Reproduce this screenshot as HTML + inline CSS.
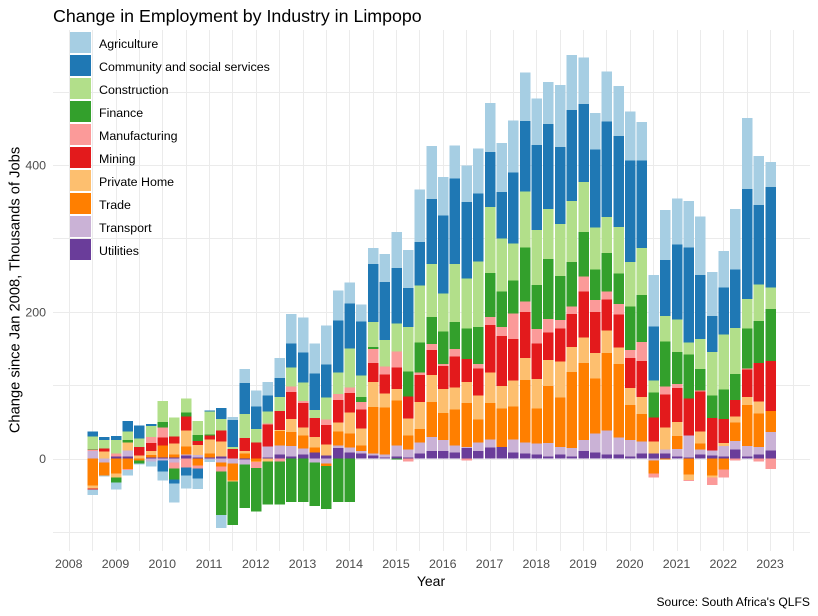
<!DOCTYPE html>
<html lang="en">
<head>
<meta charset="utf-8">
<title>Change in Employment by Industry in Limpopo</title>
<style>
html,body{margin:0;padding:0;background:#fff;}
svg{display:block;font-family:"Liberation Sans",Arial,sans-serif;}
</style>
</head>
<body>
<svg id="chart" width="818" height="616" viewBox="0 0 818 616" xmlns="http://www.w3.org/2000/svg">
<rect x="0" y="0" width="818" height="616" fill="#ffffff"/>
<g id="grid"></g>
<g id="bars"></g>
<g id="yticks"></g>
<g id="xticks"></g>
<g id="legend"></g>
<text x="53" y="22" font-size="17.8" fill="#000">Change in Employment by Industry in Limpopo</text>
<text x="431" y="586" font-size="14" fill="#000" text-anchor="middle">Year</text>
<text transform="translate(19.5,290) rotate(-90)" font-size="14.7" fill="#000" text-anchor="middle">Change since Jan 2008, Thousands of Jobs</text>
<text x="810" y="606" font-size="12.1" fill="#000" text-anchor="end">Source: South Africa's QLFS</text>
</svg>
<script>
var startYear = 2008.5;
var stepYears = 0.25;
var industries = ["Agriculture","Community and social services","Construction","Finance","Manufacturing","Mining","Private Home","Trade","Transport","Utilities"];
var industryColors = ["#a6cee3","#1f78b4","#b2df8a","#33a02c","#fb9a99","#e31a1c","#fdbf6f","#ff7f00","#cab2d6","#6a3d9a"];
var yearTicks = [2008,2009,2010,2011,2012,2013,2014,2015,2016,2017,2018,2019,2020,2021,2022,2023];
var yMajorTicks = [0,200,400];
var yMinorTicks = [-100,100,300,500];
var agriculture = [-7,-1,-9.5,-8,-1.5,-7,-12,-26,-18,-14,-3,-18,4,19,22,18,27,40,48,41,53,41,29,23,22,38,49,52,72,72,53,45,50,61,67,67,71,66,63,57,85,75,64,50,68,68,67,53,70,68,63,63,80,60,50,82,97,67,34];
var community = [7,4,5.5,14,18,3,-15,-5.5,-11,-14,1.5,15,37,42,31,22,26,33,41,50,45,71,61,74,79,79,76,53,59,89,106,117,104,93,75,63,97,96,116,116,105,124,106,106,130,124,138,119,74,76,102,130,87,49,64,80,150,108,137];
var construction = [17,12,18,12,11,15,29,26,19,19,31,16,2.5,33,18,16,19,26,25,11,30,29,53,29,34,36,38,61,78,72,52,79,68,89,90,72,50,76,75,68,71,83,68,57,49,63,61,64,16,35,44,16,41,59,75,63,40,50,29];
var finance = [1,0,-7,3,-4,0,7,-15,5.5,8,1.5,-59,-59,-59,-59,-59,-59,-59,-59,-59,-59,-59,-59,7,3,0,-1.5,34,41,37,44,37,42,51,60,49,45,74,60,82,60,61,61,42,53,42,59,64,34,61,44,60,29,31,40,35,55,57,71];
var manufacturing = [2,0,4,-1.5,0,8,14,-8,-12,-4,0,-7,0,0,-8,1.5,-4,7,3,0,7,8,8,10,19,11,22,-4,3,8,3,10,-3,5.5,11,12,35,14,20,18,11,10,20,16,11,14,11,26,-5.5,11,5.5,-1.5,1.5,-10,-11,-3,1.5,-4,-14];
var mining = [-1.5,4,0,0,12,11,11,9.5,19,5.5,5.5,15,13,18,22,30,26,37,33,26,27,31,26,26,26,26,29,30,37,34,31,42,31,37,65,68,57,63,48,38,45,45,63,56,42,45,41,49,33,45,46,50.5,55,44,33,23,37,53,68];
var privateHome = [-4,9.5,-5.5,11,4,5.5,0,15,22,14,19,20,-1.5,3,-1,-4,1.5,18,11,14,15,12,29,23,34,19,16,23,37,37,33,30,29,33,41,31,35,30,40,35,49,34,35,35,31,23,23,23,16,30,19,-7,16,-3,4,8,11,16,0];
var trade = [-37,-18,-20.5,-14,-3,3,16,4,11,-9.5,5.5,-5.5,-23,7,-4,0,20,19,18,7,-3,19,19,8,63,64,61,19,18,48,37,49,60,31,50,52,45,85,48,78,68,104,105,75,105,100,48,38,-18,-1.5,18,-22,8,-23,-15,25,56,46,29];
var transport = [10,-5.5,0,8,0,-4,-3,-5.5,1.5,3,-1.5,-5.5,-7,-7,0,15,12,14,8,-5.5,-7,4,7,3,3,4,15,11,15,19,15,10,1.5,12,11,0,18,15,15,18,10,11,15,26,33,23,22,16,-2.5,5.5,10,30,7,7,14,12,14,10,25];
var utilities = [0,0,3,3,0,1.5,1.5,1.5,4,1.5,1.5,3,0,-1.5,0,1.5,5.5,3,5.5,8,4,14,8,7,4,1.5,3,1.5,7,10,10,8,14,10,15,16,8,7,5.5,3,5.5,3,10,8,5.5,5.5,3,7,7,7,3,1.5,5.5,4,3,12,3,5.5,11];

var NS = "http://www.w3.org/2000/svg";
var seriesValues = [agriculture,community,construction,finance,manufacturing,mining,privateHome,trade,transport,utilities];
function xScale(year){ return 69.3 + (year - 2008) * 46.75; }
function yScale(value){ return 458.5 - value * 0.7335; }
function makeEl(parent, tag){
  var el = document.createElementNS(NS, tag);
  parent.appendChild(el);
  return el;
}
var gridGroup = document.getElementById("grid");
function hLine(value){
  var ln = makeEl(gridGroup, "line");
  
  
  ln.setAttribute("x1", 53); ln.setAttribute("x2", 810);
  ln.setAttribute("y1", Math.round(yScale(value)) + 0.5); ln.setAttribute("y2", Math.round(yScale(value)) + 0.5);
  ln.setAttribute("stroke", "#ebebeb"); ln.setAttribute("stroke-width", 1);
}
function vLine(year){
  var ln = makeEl(gridGroup, "line");
  
  
  var px = Math.floor(xScale(year)) + 0.5;
  ln.setAttribute("x1", px); ln.setAttribute("x2", px);
  ln.setAttribute("y1", 30); ln.setAttribute("y2", 551);
  ln.setAttribute("stroke", "#ebebeb"); ln.setAttribute("stroke-width", 1);
}
yMajorTicks.concat(yMinorTicks).forEach(hLine);
yearTicks.forEach(function(y){ vLine(y); vLine(y + 0.5); });

var barsGroup = document.getElementById("bars");
var barCount = agriculture.length;
var barWidth = 0.225 * 46.75;
function drawBar(k){
  var period = startYear + k * stepYears;
  var pos = 0, neg = 0;
  for (var s = seriesValues.length - 1; s >= 0; s--) {
    var v = seriesValues[s][k];
    if (v === 0) continue;
    var from, to;
    if (v > 0) { from = pos; to = pos + v; pos = to; }
    else { from = neg; to = neg + v; neg = to; }
    var r = makeEl(barsGroup, "rect");
    
    
    var yTop = yScale(Math.max(from, to));
    var yBot = yScale(Math.min(from, to));
    r.setAttribute("x", xScale(period) - barWidth / 2);
    r.setAttribute("width", barWidth);
    r.setAttribute("y", yTop);
    r.setAttribute("height", yBot - yTop);
    r.setAttribute("fill", industryColors[s]);
    r.setAttribute("shape-rendering", "crispEdges");
  }
}
for (var barIndex = 0; barIndex < barCount; barIndex++) { drawBar(barIndex); }

var yGroup = document.getElementById("yticks");
yMajorTicks.forEach(function(t){
  var tx = makeEl(yGroup, "text");
  
  
  tx.setAttribute("x", 46);
  tx.setAttribute("y", yScale(t) + 4.5);
  tx.setAttribute("text-anchor", "end");
  tx.setAttribute("font-size", "12.4");
  tx.setAttribute("fill", "#4d4d4d");
  tx.textContent = t;
});
var xGroup = document.getElementById("xticks");
yearTicks.forEach(function(t){
  var tx = makeEl(xGroup, "text");
  
  
  tx.setAttribute("x", xScale(t) - 0.5);
  tx.setAttribute("y", 568);
  tx.setAttribute("text-anchor", "middle");
  tx.setAttribute("font-size", "12.4");
  tx.setAttribute("fill", "#4d4d4d");
  tx.textContent = t;
});
var legendGroup = document.getElementById("legend");
industries.forEach(function(name, i){
  var key = makeEl(legendGroup, "rect");
  
  
  key.setAttribute("x", 70);
  key.setAttribute("y", 32 + 23 * i);
  key.setAttribute("width", 21);
  key.setAttribute("height", 21);
  key.setAttribute("fill", industryColors[i]);
  key.setAttribute("shape-rendering", "crispEdges");
  var tx = makeEl(legendGroup, "text");
  
  
  tx.setAttribute("x", 99);
  tx.setAttribute("y", 48 + 23 * i);
  tx.setAttribute("font-size", "12.4");
  tx.setAttribute("fill", "#000");
  tx.textContent = name;
});
</script>
</body>
</html>
